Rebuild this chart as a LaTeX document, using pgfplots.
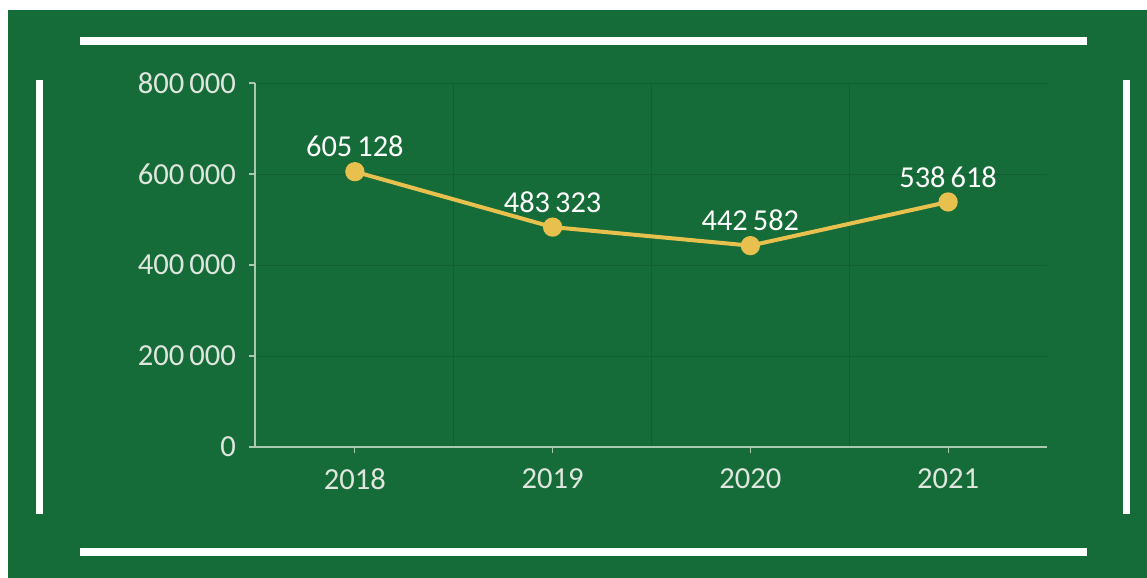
\documentclass[border=0pt]{standalone}
\usepackage{pgfplots}
\pgfplotsset{compat=1.18}
\usepackage{fontspec}
\setmainfont{Carlito}
\definecolor{bg}{RGB}{22,108,56}
\definecolor{gridc}{RGB}{17,94,46}
\definecolor{axc}{RGB}{170,200,175}
\definecolor{labc}{RGB}{222,230,222}
\definecolor{linec}{RGB}{232,192,78}
\begin{document}
\begin{tikzpicture}
% frame decoration (picture pixels, 0.5pt each)
\begin{scope}[x=0.5pt,y=-0.5pt]
\useasboundingbox (0,0) rectangle (1147,578);
\fill[white] (0,0) rectangle (1147,578);
\fill[bg] (8,10) rectangle (1147,578);
\fill[white] (80,37) rectangle (1087,45);
\fill[white] (80,548) rectangle (1087,556);
\fill[white] (36,80) rectangle (43,514);
\fill[white] (1123,80) rectangle (1130,514);
\end{scope}
\begin{axis}[
  at={(127.5pt,-223.5pt)}, anchor=south west,
  scale only axis, width=396pt, height=182pt,
  xmin=-0.505, xmax=3.5, ymin=0, ymax=800000,
  xtick={0,1,2,3}, xticklabels={2018,2019,2020,2021},
  minor xtick={0.5,1.5,2.5},
  ytick={0,200000,400000,600000,800000},
  yticklabels={0,200\,000,400\,000,600\,000,800\,000},
  scaled y ticks=false,
  axis x line*=bottom, axis y line*=left,
  axis line style={axc, line width=0.6pt, -},
  tick align=outside, major tick length=3pt,
  tick style={axc, line width=0.6pt},
  minor tick length=0pt,
  ymajorgrids, xminorgrids,
  major grid style={gridc, line width=0.5pt},
  minor grid style={gridc, line width=0.5pt},
  ticklabel style={font=\fontsize{15.3}{18}\selectfont, text=labc},
  yticklabel style={xshift=-3pt},
  xticklabel style={yshift=-4.5pt},
  clip=false,
  point meta=explicit symbolic,
  nodes near coords,
  nodes near coords style={font=\fontsize{15.2}{18}\selectfont, text=white, anchor=south, yshift=3pt},
]
\addplot[linec, line width=2pt, mark=*, mark size=3.8pt, mark options={fill=linec, draw=linec}]
  coordinates {(0,605128) [605\,128] (1,483323) [483\,323] (2,442582) [442\,582] (3,538618) [538\,618]};
\end{axis}
\end{tikzpicture}
\end{document}
